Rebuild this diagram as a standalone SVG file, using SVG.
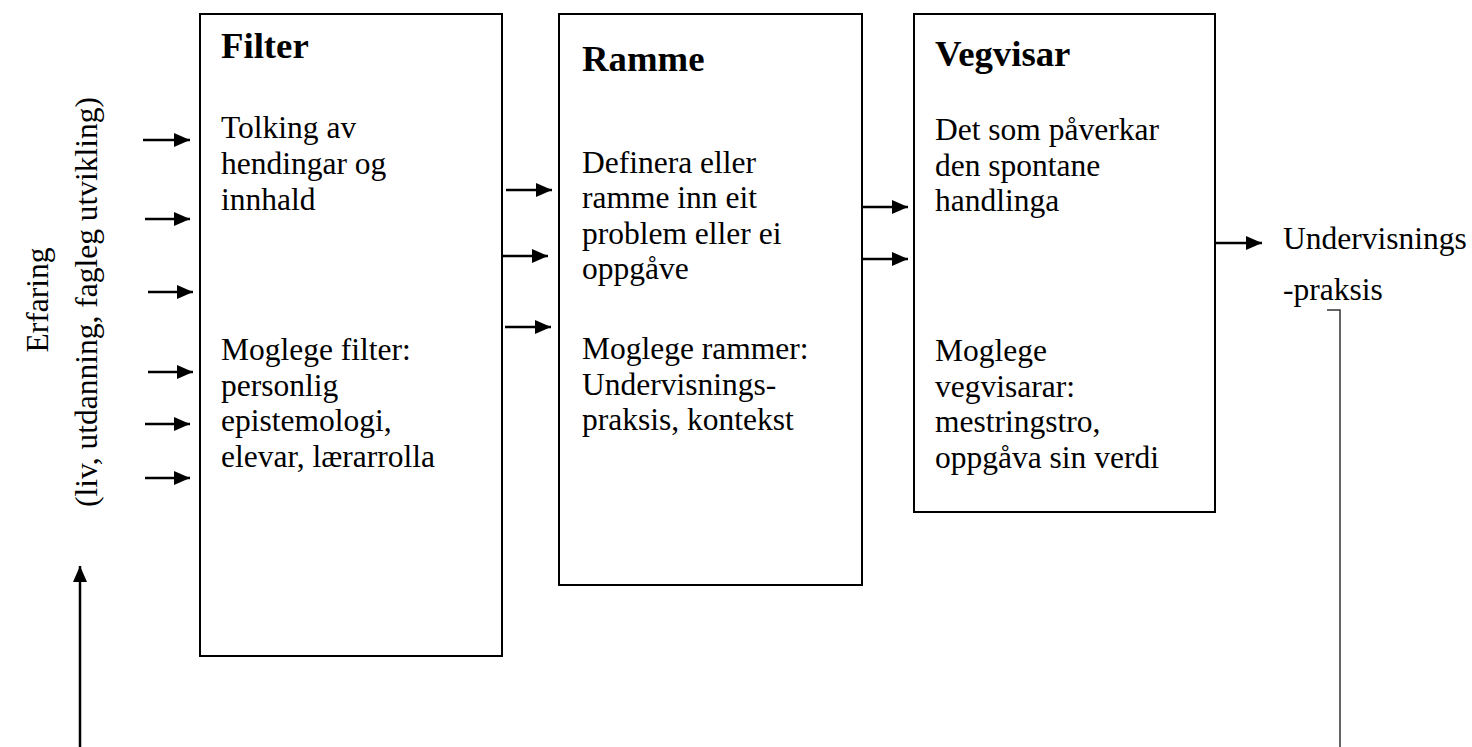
<svg xmlns="http://www.w3.org/2000/svg" width="1472" height="747" viewBox="0 0 1472 747">
<defs>
<marker id="ah" viewBox="0 0 10 10" refX="10" refY="5" markerWidth="16" markerHeight="14" markerUnits="userSpaceOnUse" orient="auto" preserveAspectRatio="none">
<path d="M0,0 L10,5 L0,10 Z" fill="#000"/>
</marker>
</defs>
<style>
.box{fill:#fff;stroke:#000;stroke-width:2}
.t{font-family:"Liberation Serif","Times New Roman",serif;font-size:31.5px;fill:#000}
.h{font-family:"Liberation Serif","Times New Roman",serif;font-size:36.75px;font-weight:bold;fill:#000}
.a{stroke:#000;stroke-width:2.5;fill:none;marker-end:url(#ah)}
</style>
<rect width="1472" height="747" fill="#fff"/>
<g id="side-label">
<text class="t" transform="translate(48,300) rotate(-90)" text-anchor="middle">Erfaring</text>
<text class="t" transform="translate(97,302) rotate(-90)" text-anchor="middle">(liv, utdanning, fagleg utvikling)</text>
</g>
<g id="filter">
<rect class="box" x="200" y="14" width="302" height="642"/>
<text class="h" x="221" y="58">Filter</text>
<text class="t"><tspan x="221" y="138">Tolking av</tspan><tspan x="221" y="174">hendingar og</tspan><tspan x="221" y="210">innhald</tspan><tspan x="221" y="360">Moglege filter:</tspan><tspan x="221" y="396">personlig</tspan><tspan x="221" y="431">epistemologi,</tspan><tspan x="221" y="467">elevar, lærarrolla</tspan></text>
</g>
<g id="ramme">
<rect class="box" x="559" y="14" width="303" height="571"/>
<text class="h" x="582" y="71">Ramme</text>
<text class="t"><tspan x="582" y="173">Definera eller</tspan><tspan x="582" y="208">ramme inn eit</tspan><tspan x="582" y="244">problem eller ei</tspan><tspan x="582" y="279">oppgåve</tspan><tspan x="582" y="359">Moglege rammer:</tspan><tspan x="582" y="395">Undervisnings-</tspan><tspan x="582" y="430">praksis, kontekst</tspan></text>
</g>
<g id="vegvisar">
<rect class="box" x="914" y="14" width="301" height="498"/>
<text class="h" x="935" y="66">Vegvisar</text>
<text class="t"><tspan x="935" y="140">Det som påverkar</tspan><tspan x="935" y="176">den spontane</tspan><tspan x="935" y="211">handlinga</tspan><tspan x="935" y="361">Moglege</tspan><tspan x="935" y="397">vegvisarar:</tspan><tspan x="935" y="432">mestringstro,</tspan><tspan x="935" y="468">oppgåva sin verdi</tspan></text>
</g>
<g id="output">
<text class="t"><tspan x="1283" y="249">Undervisnings</tspan><tspan x="1283" y="300">-praksis</tspan></text>
</g>
<g id="connectors">
<line class="a" x1="143" y1="140" x2="190" y2="140"/>
<line class="a" x1="145" y1="219" x2="190" y2="219"/>
<line class="a" x1="148" y1="292" x2="193" y2="292"/>
<line class="a" x1="148" y1="372" x2="193" y2="372"/>
<line class="a" x1="145" y1="424" x2="190" y2="424"/>
<line class="a" x1="145" y1="478" x2="190" y2="478"/>
<line class="a" x1="506" y1="190" x2="552" y2="190"/>
<line class="a" x1="502" y1="256" x2="548" y2="256"/>
<line class="a" x1="505" y1="327" x2="551" y2="327"/>
<line class="a" x1="862" y1="207" x2="908" y2="207"/>
<line class="a" x1="862" y1="259" x2="908" y2="259"/>
<line class="a" x1="1216" y1="243" x2="1262" y2="243"/>
<line class="a" x1="80" y1="747" x2="80" y2="566"/>
<polyline points="1327,310 1340,310 1340,747" fill="none" stroke="#333" stroke-width="1.5"/>
</g>
</svg>
